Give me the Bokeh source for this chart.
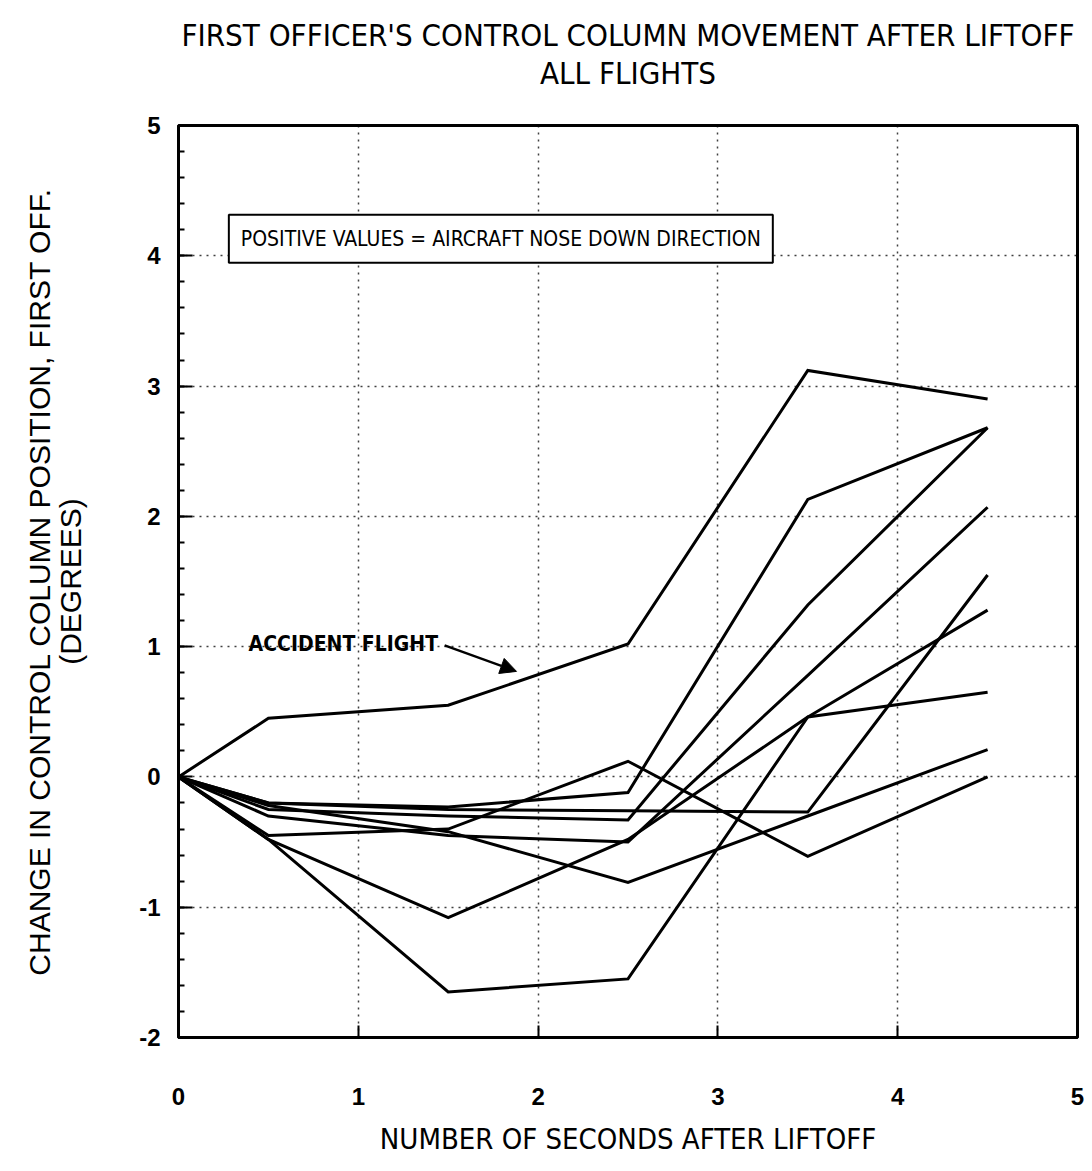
from bokeh.plotting import figure
from bokeh.models import Label, Arrow, NormalHead, FixedTicker, LinearAxis
from bokeh.embed import file_html
from bokeh.resources import INLINE

# Data: seconds after liftoff, change in control column position (degrees)
seconds = [0, 0.5, 1.5, 2.5, 3.5, 4.5]
accident_flight = [0, 0.45, 0.55, 1.02, 3.12, 2.90]
flight_2 = [0, -0.20, -0.23, -0.12, 2.13, 2.68]
flight_3 = [0, -0.25, -0.30, -0.33, 1.32, 2.68]
flight_4 = [0, -0.30, -0.45, -0.50, 0.78, 2.07]
flight_5 = [0, -0.45, -0.40, 0.12, -0.61, 0.00]
flight_6 = [0, -0.48, -1.08, -0.48, 0.46, 0.65]
flight_7 = [0, -0.48, -1.65, -1.55, 0.46, 1.28]
flight_8 = [0, -0.20, -0.25, -0.26, -0.27, 1.55]
flight_9 = [0, -0.22, -0.42, -0.81, -0.30, 0.21]

x_ticks = [0, 1, 2, 3, 4, 5]
y_ticks = [-2, -1, 0, 1, 2, 3, 4, 5]

title_text = "FIRST OFFICER'S CONTROL COLUMN MOVEMENT AFTER LIFTOFF\nALL FLIGHTS"

COND = "'Liberation Sans Narrow', 'DejaVu Sans Condensed', 'Roboto Condensed', sans-serif"
SANS = "'Liberation Sans', Arial, sans-serif"

p = figure(width=1088, height=1168, x_range=(0, 5), y_range=(-2, 5),
           output_backend="svg", toolbar_location=None,
           min_border_left=178, min_border_right=11,
           min_border_top=125, min_border_bottom=131)

p.outline_line_color = "black"
p.outline_line_width = 3

# Heading drawn as the label of a bare axis above the frame (centred lines)
top = LinearAxis(ticker=FixedTicker(ticks=[]), axis_line_color=None,
                 major_tick_line_color=None, minor_tick_line_color=None,
                 major_label_text_font_size="0px",
                 axis_label=title_text, axis_label_text_font=COND,
                 axis_label_text_font_size="31px", axis_label_text_font_style="normal",
                 axis_label_text_color="black", axis_label_text_line_height=1.05,
                 axis_label_standoff=35)
p.add_layout(top, "above")

for xa in p.xaxis:
    if xa is top:
        continue
    xa.ticker = FixedTicker(ticks=x_ticks)
    xa.axis_label = "NUMBER OF SECONDS AFTER LIFTOFF"
    xa.axis_label_text_font = COND
    xa.axis_label_text_font_size = "29px"
    xa.axis_label_text_font_style = "normal"
    xa.axis_label_text_color = "black"
    xa.axis_label_standoff = 14
    xa.major_label_standoff = 50
    xa.major_label_text_font = SANS
    xa.major_label_text_font_style = "bold"
    xa.major_label_text_font_size = "24px"
    xa.major_label_text_color = "black"
    xa.major_tick_in = 12
    xa.major_tick_out = 0
    xa.major_tick_line_width = 2
    xa.axis_line_width = 3

for ya in p.yaxis:
    ya.ticker = FixedTicker(ticks=y_ticks,
                            minor_ticks=[v / 5 for v in range(-10, 26)])
    ya.major_label_overrides = {-2: "-2", -1: "-1"}
    ya.axis_label = "CHANGE IN CONTROL COLUMN POSITION, FIRST OFF.\n(DEGREES)"
    ya.axis_label_text_font = SANS
    ya.axis_label_text_font_size = "30px"
    ya.axis_label_text_line_height = 0.95
    ya.axis_label_text_font_style = "normal"
    ya.axis_label_text_color = "black"
    ya.axis_label_standoff = 49
    ya.major_label_standoff = 18
    ya.major_label_text_font = SANS
    ya.major_label_text_font_style = "bold"
    ya.major_label_text_font_size = "24px"
    ya.major_label_text_color = "black"
    ya.major_tick_in = 14
    ya.major_tick_out = 0
    ya.minor_tick_in = 6
    ya.minor_tick_out = 0
    ya.major_tick_line_width = 2
    ya.minor_tick_line_width = 2
    ya.axis_line_width = 3

p.xgrid.ticker = FixedTicker(ticks=[1, 2, 3, 4])
p.ygrid.ticker = FixedTicker(ticks=[-1, 0, 1, 2, 3, 4])
for g in (p.xgrid, p.ygrid):
    g.grid_line_color = "black"
    g.grid_line_alpha = 0.75
    g.grid_line_dash = "2 5"
    g.grid_line_width = 1.5

series = [accident_flight, flight_2, flight_3, flight_4, flight_5,
          flight_6, flight_7, flight_8, flight_9]
for s in series:
    p.line(seconds, s, line_color="black", line_width=3, line_join="miter")

note = Label(x=0.28, y=4.13, text="POSITIVE VALUES = AIRCRAFT NOSE DOWN DIRECTION",
             text_font=COND, text_font_size="21px", text_baseline="middle",
             text_color="black", border_line_color="black", border_line_width=2,
             background_fill_color="white", padding=12)
p.add_layout(note)

acc = Label(x=0.39, y=1.02, text="ACCIDENT FLIGHT", text_font=COND,
            text_font_size="21px", text_font_style="bold", text_baseline="middle",
            text_color="black")
p.add_layout(acc)

p.add_layout(Arrow(x_start=1.48, y_start=1.01, x_end=1.88, y_end=0.81,
                   line_color="black", line_width=2.5,
                   end=NormalHead(size=16, fill_color="black", line_color="black")))

open("out.html", "w").write(file_html(p, INLINE))
